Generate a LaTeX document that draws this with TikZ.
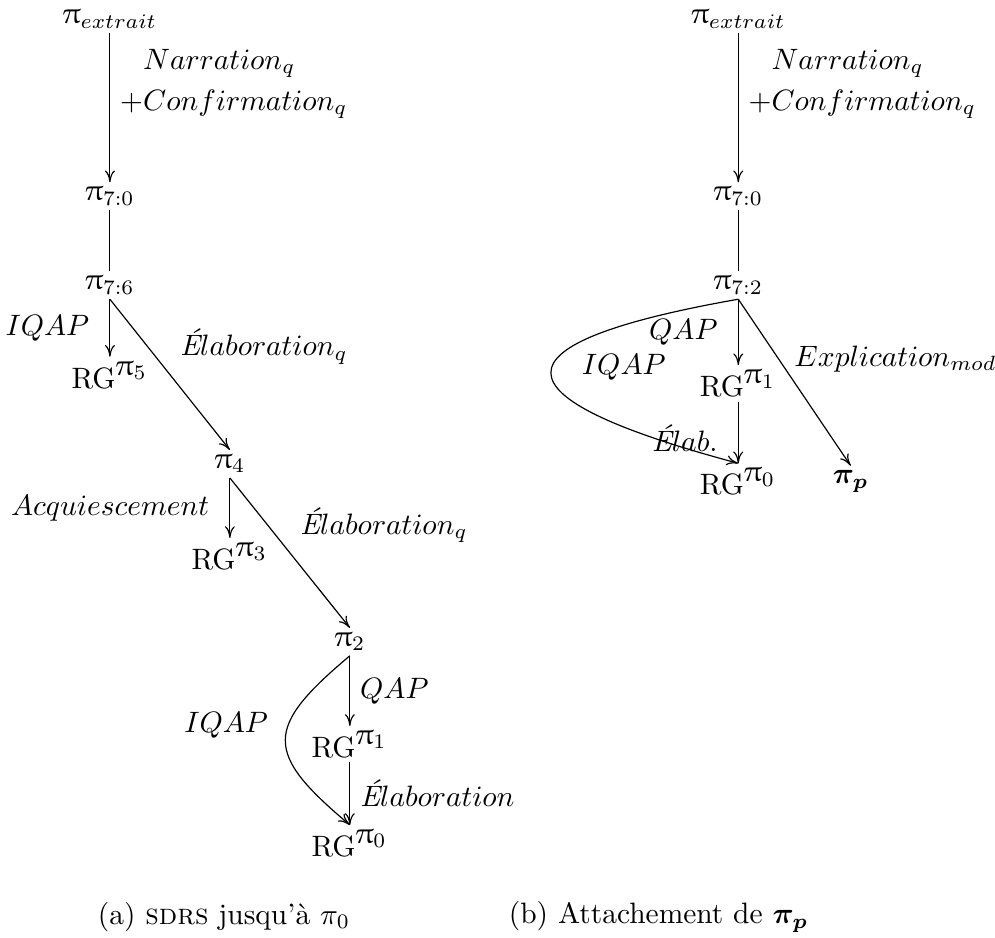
\documentclass[tikz,border=0pt]{standalone}
\usepackage{upgreek}
\usepackage{bm}
\usetikzlibrary{arrows.meta}

\newcommand{\RGof}[1]{$\mathrm{RG}^{\mbox{$\uppi_{#1}$}}$}
\newcommand{\Eac}{\mbox{\itshape É}}

\tikzset{
  sdrs/.style={inner sep=1.5pt},
  rel/.style={-{Computer Modern Rightarrow[length=4pt,width=3.4pt]}},
  lab/.style={inner sep=1pt},
  labl/.style={lab, left, xshift=-5.8pt},
  labr/.style={lab, right, xshift=2.3pt},
  labd/.style={lab, above right, xshift=2.3pt, yshift=2.3pt},
}

\begin{document}
\begin{tikzpicture}
    \useasboundingbox (0,0) rectangle (11.86,11.18);
    % (a) SDRS jusqu'a pi_0
    \node[sdrs] (pexA) at (1.31,10.95) {$\uppi_{extrait}$};
    \node[sdrs] (p70A) at (1.31,8.84) {$\uppi_{7:0}$};
    \node[sdrs] (p76) at (1.31,7.78) {$\uppi_{7:6}$};
    \node[sdrs] (rg5) at (1.31,6.71) {\RGof{5}};
    \node[sdrs] (p4) at (2.74,5.65) {$\uppi_4$};
    \node[sdrs] (rg3) at (2.74,4.55) {\RGof{3}};
    \node[sdrs] (p2) at (4.17,3.53) {$\uppi_2$};
    \node[sdrs] (rg1A) at (4.17,2.31) {\RGof{1}};
    \node[sdrs] (rg0A) at (4.17,1.13) {\RGof{0}};
    \draw[rel] (pexA) -- node[labr, pos=0.34, align=left] (narrA) {$\phantom{+}Narration_q$\\[2pt]$+Confirmation_q$} (p70A);
    \draw (p70A) -- (p76);
    \draw[rel] (p76) -- node[labl] (iqapA) {$IQAP$} (rg5);
    \draw[rel] (p76.south) -- node[labd] (elabqA) {$\Eac laboration_q$} (p4.north);
    \draw[rel] (p4) -- node[labl] (acq) {$Acquiescement$} (rg3);
    \draw[rel] (p4.south) -- node[labd] (elabqB) {$\Eac laboration_q$} (p2.north);
    \draw[rel] (p2) -- node[labr] (qapA) {$QAP$} (rg1A);
    \draw[rel] (rg1A) -- node[labr] (elabA) {$\Eac laboration$} (rg0A);
    \draw[rel] (p2.south) to[out=220, in=140, looseness=1.7] node[lab, midway, left, xshift=-4.7pt, yshift=5pt] (iqapB) {$IQAP$} (rg0A.north);
    \node (capA) at (2.67,0.25) {(a) \textsc{sdrs} jusqu'à $\pi_0$};

    % (b) Attachement de pi_p
    \node[sdrs] (pexB) at (8.80,10.95) {$\uppi_{extrait}$};
    \node[sdrs] (p70B) at (8.80,8.84) {$\uppi_{7:0}$};
    \node[sdrs] (p72) at (8.80,7.78) {$\uppi_{7:2}$};
    \node[sdrs] (rg1B) at (8.80,6.61) {\RGof{1}};
    \node[sdrs] (rg0B) at (8.80,5.44) {\RGof{0}};
    \node[sdrs] (pp) at (10.14,5.44) {$\bm{\pi_p}$};
    \draw[rel] (pexB) -- node[labr, pos=0.34, align=left] (narrB) {$\phantom{+}Narration_q$\\[2pt]$+Confirmation_q$} (p70B);
    \draw (p70B) -- (p72);
    \draw[rel] (p72) -- node[labl] (qapB) {$QAP$} (rg1B);
    \draw[rel] (rg1B) -- node[labl, pos=0.6] (elabB) {$\Eac lab.$} (rg0B);
    \draw[rel] (p72.south) to[out=190, in=165, looseness=4] node[lab, midway, right, xshift=9.3pt, yshift=2pt] (iqapC) {$IQAP$} (rg0B.north);
    \draw[rel] (p72.south) -- node[labd, xshift=-3.5pt] (expl) {$Explication_{mod}$} (pp.north);
    \node (capB) at (7.85,0.25) {(b) Attachement de $\bm{\pi_p}$};
\end{tikzpicture}
\end{document}
